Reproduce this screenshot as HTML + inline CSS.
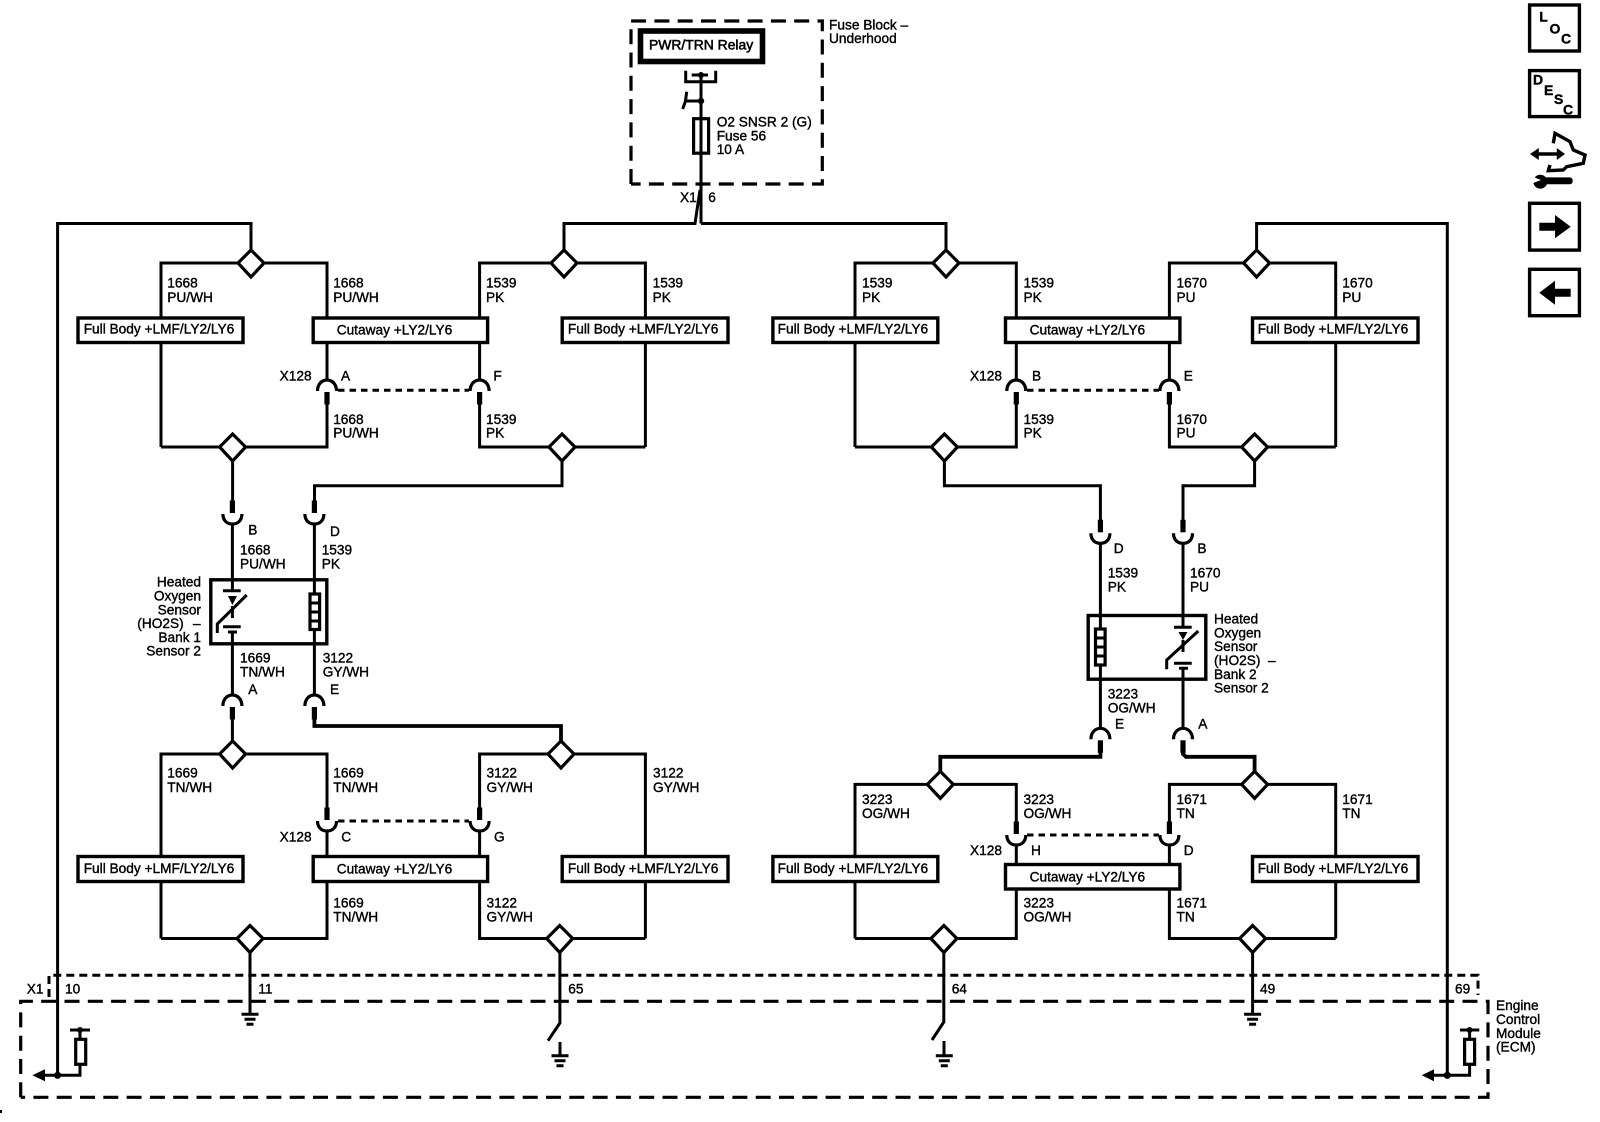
<!DOCTYPE html>
<html lang="en"><head><meta charset="utf-8"><title>Heated Oxygen Sensor Schematic</title>
<style>
html,body{margin:0;padding:0;background:#fff}
svg{display:block}
text{font-family:"Liberation Sans",sans-serif;font-size:13.7px;fill:#000;stroke:#000;stroke-width:.38}
.w{fill:none;stroke:#000;stroke-width:3}
.t{fill:none;stroke:#000;stroke-width:3.8}
.b{fill:#fff;stroke:#000;stroke-width:3.4}
.n{fill:none;stroke:#000;stroke-width:3;stroke-dasharray:6.5 5}
.s{fill:none;stroke:#000;stroke-width:3;stroke-dasharray:8 5}
.l{fill:none;stroke:#000;stroke-width:3.2;stroke-dasharray:15 8.3}
.big{font-weight:bold;font-size:14px}
</style></head><body>
<svg width="1600" height="1122" viewBox="0 0 1600 1122" xmlns="http://www.w3.org/2000/svg">
<defs>
<polygon id="d" points="0,-13 13,0 0,14 -13,0" fill="#fff" stroke="#000" stroke-width="3.2"/>
<g id="up"><path d="M-9.5,11 C-9.5,4 -5,0 0,0 C5,0 9.5,4 9.5,11" fill="none" stroke="#000" stroke-width="3.2"/><rect x="-2.6" y="12" width="5.2" height="12.5"/></g>
<g id="cup"><path d="M-9.5,-10 C-9.5,-3 -5,0 0,0 C5,0 9.5,-3 9.5,-10" fill="none" stroke="#000" stroke-width="3.2"/><rect x="-2.6" y="-23.5" width="5.2" height="12.5"/></g>
<g id="gnd"><path d="M-8.5,0H8.5M-5.5,5H5.5M-3.5,10H3.5" fill="none" stroke="#000" stroke-width="3"/></g>
</defs>

<!-- Fuse block -->
<path class="l" d="M631,184V21H822.3V184H631"/>
<rect x="640.5" y="31" width="122" height="30.5" fill="#fff" stroke="#000" stroke-width="5.6"/>
<text x="649" y="49.5" style="font-size:13.9px;stroke-width:.55">PWR/TRN Relay</text>
<path class="w" d="M685.7,70.7V81.7H715.7V70.7M691.7,75H708"/>
<circle cx="701" cy="75" r="3"/>
<circle cx="701" cy="101" r="3.2"/>
<path class="w" d="M701,75V223.5M701,101H684M686.7,91.7L685.5,101L682.7,109"/>
<rect x="693.6" y="118.7" width="15" height="34.5" fill="#fff" stroke="#000" stroke-width="3.2"/>
<path class="w" d="M701,118V154"/>
<text x="716.7" y="126.7">O2 SNSR 2 (G)</text>
<text x="716.7" y="140.7">Fuse 56</text>
<text x="716.7" y="154">10 A</text>
<text x="829" y="29.3">Fuse Block –</text>
<text x="829" y="43">Underhood</text>
<text x="680" y="202">X1</text>
<text x="708.3" y="202">6</text>

<!-- Top feeds -->
<path class="w" d="M251,263V223.5H57.6V1075.3"/>
<path class="w" d="M564,263V223.5H695L700,190"/>
<path class="w" d="M701,223.5H946V263"/>
<path class="w" d="M1256.6,263V223.5H1447.3V1075.3"/>

<!-- Upper groups -->
<path class="w" d="M161,447V263H327V380M327,392V447H161"/>
<path class="w" d="M645.4,447V263H479.6V380M479.6,392V447H645.4"/>
<path class="w" d="M855,447V263H1016.3V380M1016.3,392V447H855"/>
<path class="w" d="M1335.7,447V263H1169.4V380M1169.4,392V447H1335.7"/>
<path class="n" d="M338,390.3H469"/>
<path class="n" d="M1027,390.3H1159"/>
<use href="#up" x="327" y="380"/><use href="#up" x="479.6" y="380"/>
<use href="#up" x="1016.3" y="380"/><use href="#up" x="1169.4" y="380"/>

<!-- Middle wiring -->
<path class="w" d="M232.6,447V502M232.4,524V591"/>
<path class="w" d="M562,447V485.7H314.5V502M314.4,524V695"/>
<path class="w" d="M944.4,447V485.7H1100.4V521M1100.4,543V728"/>
<path class="w" d="M1254.6,447V485.7H1183V521M1183,543V627"/>

<!-- Left sensor -->
<use href="#cup" x="232.4" y="524"/><use href="#cup" x="314.4" y="524"/>
<rect x="210.8" y="579.8" width="116" height="64" fill="none" stroke="#000" stroke-width="3.4"/>
<path class="w" d="M223,590.7H240.7M246.7,595L217.3,624V633M223,626.7H240.7M228,632H237M232.4,606V618M232.4,632V695"/>
<polygon points="228,596 237,596 232.4,605"/>
<rect x="310" y="594" width="9.6" height="35.5" fill="#fff" stroke="#000" stroke-width="3.2"/>
<path class="w" d="M310,603H320M310,612H320M310,621H320"/>
<use href="#up" x="232.4" y="695"/><use href="#up" x="314.4" y="695"/>
<path class="w" d="M232.4,718V754"/>
<path class="t" d="M314.4,718V726H561V754"/>

<!-- Right sensor -->
<use href="#cup" x="1100.4" y="543.3"/><use href="#cup" x="1183" y="543.3"/>
<rect x="1088.2" y="615.5" width="117.6" height="63.7" fill="none" stroke="#000" stroke-width="3.4"/>
<path class="w" d="M1174,627.3H1191.7M1198.3,631L1166.7,660V669.3M1174,663.3H1191.7M1179,668.3H1188M1183,640V652M1183,668V728"/>
<polygon points="1178.5,632 1187.5,632 1183,640"/>
<rect x="1095.5" y="629" width="9.6" height="36" fill="#fff" stroke="#000" stroke-width="3.2"/>
<path class="w" d="M1095,638H1105M1095,647H1105M1095,656H1105"/>
<use href="#up" x="1100.4" y="728.3"/><use href="#up" x="1183" y="728.3"/>
<path class="t" d="M1100.4,750V756.8H940.3V784.4"/>
<path class="t" d="M1183,750V754L1186,756.8H1254.6V784.4"/>

<!-- Lower groups -->
<path class="w" d="M161,938.5V754H327V809M327,831V938.5H161"/>
<path class="w" d="M645.4,938.5V754H479.6V809M479.6,831V938.5H645.4"/>
<path class="w" d="M855,938.5V784.4H1016.3V823M1016.3,845V938.5H855"/>
<path class="w" d="M1335.7,938.5V784.4H1169.4V823M1169.4,845V938.5H1335.7"/>
<path class="n" d="M338,821H469"/>
<path class="n" d="M1027,835H1159"/>
<use href="#cup" x="327" y="831"/><use href="#cup" x="479.6" y="831"/>
<use href="#cup" x="1016.3" y="845"/><use href="#cup" x="1169.4" y="845"/>

<!-- Diamonds -->
<use href="#d" x="251" y="263"/><use href="#d" x="564" y="263"/><use href="#d" x="946" y="263"/><use href="#d" x="1256.6" y="263"/>
<use href="#d" x="232.6" y="447"/><use href="#d" x="562" y="447"/><use href="#d" x="944.4" y="447"/><use href="#d" x="1254.6" y="447"/>
<use href="#d" x="232.6" y="754"/><use href="#d" x="561" y="754"/>
<use href="#d" x="940.3" y="784.4"/><use href="#d" x="1254.6" y="784.4"/>
<use href="#d" x="250" y="938.5"/><use href="#d" x="559.7" y="938.5"/><use href="#d" x="943.9" y="938.5"/><use href="#d" x="1252.6" y="938.5"/>

<!-- Boxes upper -->
<rect class="b" x="78" y="318" width="165" height="24.5"/>
<rect class="b" x="313.2" y="318" width="174.4" height="24.5"/>
<rect class="b" x="562.2" y="318" width="165.8" height="24.5"/>
<rect class="b" x="772.9" y="318" width="164.9" height="24.5"/>
<rect class="b" x="1005.5" y="318" width="174.4" height="24.5"/>
<rect class="b" x="1252.5" y="318" width="165.5" height="24.5"/>
<text x="83.7" y="333.6">Full Body +LMF/LY2/LY6</text>
<text x="336.7" y="334.3">Cutaway +LY2/LY6</text>
<text x="567.9" y="333.6">Full Body +LMF/LY2/LY6</text>
<text x="777.6" y="333.6">Full Body +LMF/LY2/LY6</text>
<text x="1029.6" y="334.3">Cutaway +LY2/LY6</text>
<text x="1257.7" y="333.6">Full Body +LMF/LY2/LY6</text>

<!-- Boxes lower -->
<rect class="b" x="78" y="856.5" width="165" height="25"/>
<rect class="b" x="313.2" y="856.5" width="174.4" height="25"/>
<rect class="b" x="562.2" y="856.5" width="165.8" height="25"/>
<rect class="b" x="772.9" y="856.5" width="164.9" height="25"/>
<rect class="b" x="1005.5" y="864.5" width="174.4" height="24.5"/>
<rect class="b" x="1252.5" y="856.5" width="165.5" height="25"/>
<text x="83.7" y="873">Full Body +LMF/LY2/LY6</text>
<text x="336.7" y="873.6">Cutaway +LY2/LY6</text>
<text x="567.9" y="873">Full Body +LMF/LY2/LY6</text>
<text x="777.6" y="873">Full Body +LMF/LY2/LY6</text>
<text x="1029.6" y="881.5">Cutaway +LY2/LY6</text>
<text x="1257.7" y="873">Full Body +LMF/LY2/LY6</text>

<!-- Upper labels -->
<text x="167.3" y="287.5">1668</text><text x="167.3" y="302">PU/WH</text>
<text x="333.2" y="287.5">1668</text><text x="333.2" y="302">PU/WH</text>
<text x="486" y="287.5">1539</text><text x="486" y="302">PK</text>
<text x="652.6" y="287.5">1539</text><text x="652.6" y="302">PK</text>
<text x="862" y="287.5">1539</text><text x="862" y="302">PK</text>
<text x="1023.5" y="287.5">1539</text><text x="1023.5" y="302">PK</text>
<text x="1176.5" y="287.5">1670</text><text x="1176.5" y="302">PU</text>
<text x="1342.3" y="287.5">1670</text><text x="1342.3" y="302">PU</text>
<text x="279.6" y="380.7">X128</text><text x="341" y="380.7">A</text><text x="493.4" y="380.7">F</text>
<text x="970" y="380.7">X128</text><text x="1032" y="380.7">B</text><text x="1183.7" y="380.7">E</text>
<text x="333.2" y="424">1668</text><text x="333.2" y="437.5">PU/WH</text>
<text x="486" y="424">1539</text><text x="486" y="437.5">PK</text>
<text x="1023.5" y="424">1539</text><text x="1023.5" y="437.5">PK</text>
<text x="1176.5" y="424">1670</text><text x="1176.5" y="437.5">PU</text>

<!-- Left sensor labels -->
<text x="248.3" y="534.3">B</text><text x="330" y="536">D</text>
<text x="240" y="554.3">1668</text><text x="240" y="568.3">PU/WH</text>
<text x="321.7" y="554.3">1539</text><text x="321.7" y="568.3">PK</text>
<text x="201" y="586.7" text-anchor="end">Heated</text>
<text x="201" y="600.7" text-anchor="end">Oxygen</text>
<text x="201" y="614.3" text-anchor="end">Sensor</text>
<text x="137.3" y="628">(HO2S)</text><text x="193" y="628">–</text>
<text x="201" y="642" text-anchor="end">Bank 1</text>
<text x="201" y="655.7" text-anchor="end">Sensor 2</text>
<text x="240" y="662.3">1669</text><text x="240" y="676.7">TN/WH</text>
<text x="322.7" y="662.3">3122</text><text x="322.7" y="676.7">GY/WH</text>
<text x="248.3" y="694">A</text><text x="330" y="694">E</text>

<!-- Right sensor labels -->
<text x="1113.8" y="553">D</text><text x="1197.4" y="553">B</text>
<text x="1107.7" y="577.3">1539</text><text x="1107.7" y="591.7">PK</text>
<text x="1190" y="577.3">1670</text><text x="1190" y="591.7">PU</text>
<text x="1214" y="623.3">Heated</text>
<text x="1214" y="637.3">Oxygen</text>
<text x="1214" y="651">Sensor</text>
<text x="1214" y="665">(HO2S)</text><text x="1268" y="665">–</text>
<text x="1214" y="679">Bank 2</text>
<text x="1214" y="692.7">Sensor 2</text>
<text x="1107.7" y="698.3">3223</text><text x="1107.7" y="712.7">OG/WH</text>
<text x="1115" y="728.3">E</text><text x="1198.3" y="728.3">A</text>

<!-- Lower labels -->
<text x="167.3" y="777.6">1669</text><text x="167.3" y="792">TN/WH</text>
<text x="333.3" y="777.6">1669</text><text x="333.3" y="792">TN/WH</text>
<text x="486.5" y="777.6">3122</text><text x="486.5" y="792">GY/WH</text>
<text x="653" y="777.6">3122</text><text x="653" y="792">GY/WH</text>
<text x="862" y="804">3223</text><text x="862" y="818">OG/WH</text>
<text x="1023.5" y="804">3223</text><text x="1023.5" y="818">OG/WH</text>
<text x="1176.5" y="804">1671</text><text x="1176.5" y="818">TN</text>
<text x="1342.3" y="804">1671</text><text x="1342.3" y="818">TN</text>
<text x="279.6" y="841.7">X128</text><text x="341.3" y="841.7">C</text><text x="494" y="841.7">G</text>
<text x="970" y="855">X128</text><text x="1031" y="855">H</text><text x="1183.7" y="855">D</text>
<text x="333.3" y="907.7">1669</text><text x="333.3" y="921.3">TN/WH</text>
<text x="486.5" y="907.7">3122</text><text x="486.5" y="921.3">GY/WH</text>
<text x="1023.5" y="907.7">3223</text><text x="1023.5" y="921.3">OG/WH</text>
<text x="1176.5" y="907.7">1671</text><text x="1176.5" y="921.3">TN</text>

<!-- Bottom dashed areas -->
<path class="s" d="M49,997V975.3H1478V995"/>
<path class="l" d="M20.7,1097.3V1001.3H1488V1097.3H20.7"/>
<text x="26.7" y="993.3">X1</text>
<text x="65" y="993.3">10</text><text x="258.3" y="993.3">11</text>
<text x="568.3" y="993.3">65</text><text x="951.7" y="993.3">64</text>
<text x="1260" y="993.3">49</text><text x="1455" y="993.3">69</text>
<text x="1496" y="1010">Engine</text><text x="1496" y="1024">Control</text>
<text x="1496" y="1038">Module</text><text x="1496" y="1051.5">(ECM)</text>

<!-- Bottom wires & grounds -->
<path class="w" d="M250,951V1014M1252.6,951V1014"/>
<use href="#gnd" x="250" y="1014.3"/><use href="#gnd" x="1252.6" y="1014.3"/>
<path class="w" d="M559.9,951V1023L548,1040.7M943.8,951V1022L932,1040"/>
<path class="w" d="M560,1042V1055M944,1041V1055"/>
<use href="#gnd" x="560" y="1055.7"/><use href="#gnd" x="944.3" y="1055.7"/>

<!-- ECM symbols -->
<path class="w" d="M70,1030H90M80,1030V1039M80,1064V1075.3H44"/>
<circle cx="80" cy="1030" r="3"/>
<rect x="75.7" y="1039.3" width="10" height="25" fill="#fff" stroke="#000" stroke-width="3.2"/>
<polygon points="32.3,1075.3 45,1069.3 45,1081.3"/>
<circle cx="57.6" cy="1075.3" r="3.6"/>
<path class="w" d="M1460,1030H1479.3M1469.6,1030V1039M1469.6,1064V1075.3H1433"/>
<circle cx="1469.6" cy="1030" r="3"/>
<rect x="1464.6" y="1039.3" width="10" height="25" fill="#fff" stroke="#000" stroke-width="3.2"/>
<polygon points="1421.7,1075.3 1434,1069.3 1434,1081.3"/>
<circle cx="1447.3" cy="1075.3" r="3.6"/>
<rect x="0" y="1110" width="2" height="3"/>

<!-- Icons -->
<rect x="1529.6" y="5" width="49.8" height="46" fill="none" stroke="#000" stroke-width="3.4"/>
<text class="big" x="1539.3" y="21.7">L</text><text class="big" x="1549.5" y="33.3">O</text><text class="big" x="1561" y="43.3">C</text>
<rect x="1529.6" y="70.6" width="49.8" height="46" fill="none" stroke="#000" stroke-width="3.4"/>
<text class="big" x="1533" y="84.3">D</text><text class="big" x="1544" y="95">E</text><text class="big" x="1554" y="104">S</text><text class="big" x="1563" y="114.3">C</text>
<path fill="none" stroke="#000" stroke-width="3.4" d="M1553.3,143.3L1555,133.3L1570,141.7L1573.3,150L1585,155L1583.3,163.3L1566.7,166.7L1563.3,170L1548.3,170.7L1550,165"/>
<path fill="none" stroke="#000" stroke-width="3.6" d="M1537,154H1558"/>
<polygon points="1530,154 1538.8,148 1538.8,160"/>
<polygon points="1565,154 1556.8,148 1556.8,160"/>
<rect x="1543" y="177.4" width="29.7" height="6.8" rx="3"/>
<circle cx="1540.3" cy="181.7" r="7"/>
<polygon points="1532,176.5 1541,180 1532,183.5" fill="#fff"/>
<rect x="1529.6" y="203.3" width="49.8" height="46.8" fill="none" stroke="#000" stroke-width="3.4"/>
<polygon points="1539.3,222.7 1555,222.7 1555,215 1570.7,226.7 1555,238.3 1555,230.7 1539.3,230.7"/>
<rect x="1529.6" y="269.3" width="49.8" height="46.4" fill="none" stroke="#000" stroke-width="3.4"/>
<polygon points="1570.7,288.7 1555,288.7 1555,280.7 1539.3,292.7 1555,304.7 1555,296.7 1570.7,296.7"/>
</svg>
</body></html>
